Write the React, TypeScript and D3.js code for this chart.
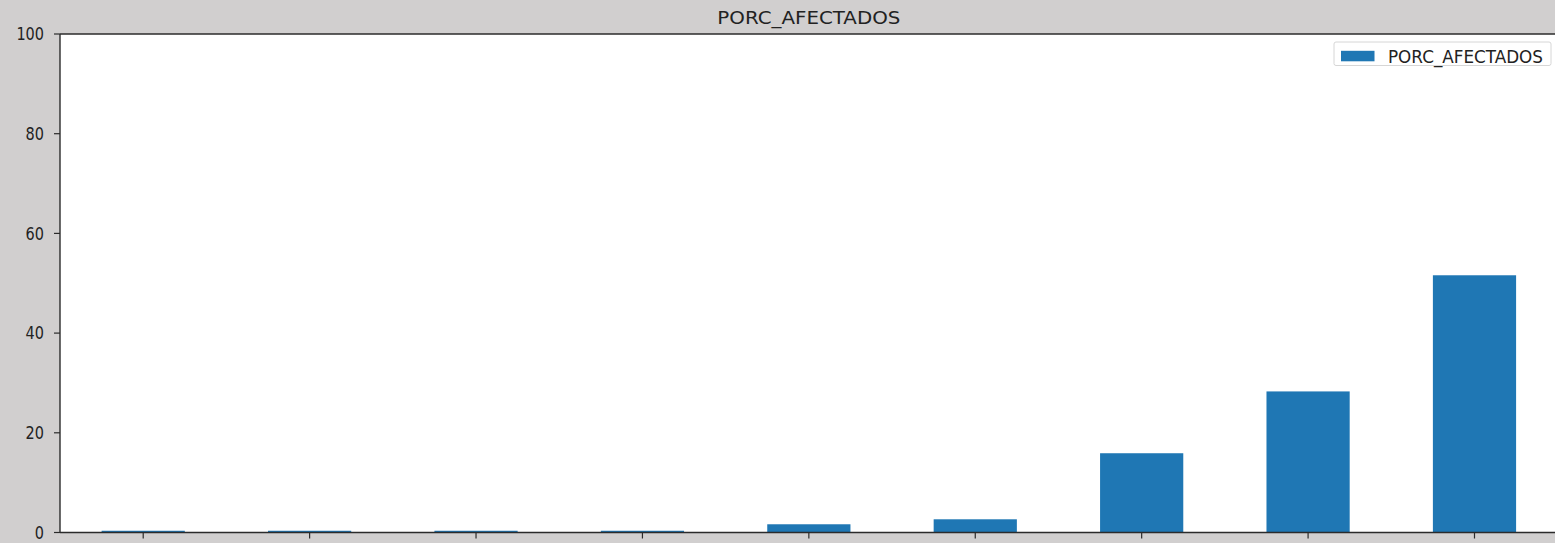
import React from "react";
import * as d3 from "d3";

const categories: string[] = ["0", "1", "2", "3", "4", "5", "6", "7", "8"];
const values: number[] = [0.35, 0.35, 0.35, 0.35, 1.65, 2.65, 15.9, 28.3, 51.6];
const yTicks: number[] = [0, 20, 40, 60, 80, 100];
const seriesName = "PORC_AFECTADOS";
const title = "PORC_AFECTADOS";

const W = 1555;
const H = 543;
const plotLeft = 60;
const plotRight = 1557.7;
const plotTop = 34;
const plotBottom = 532.5;
const font = "DejaVu Sans, sans-serif";

export default function App() {
  const x = d3
    .scaleBand<string>()
    .domain(categories)
    .range([plotLeft, plotRight])
    .paddingInner(0.5)
    .paddingOuter(0.25);
  const y = d3.scaleLinear().domain([0, 100]).range([plotBottom, plotTop]);
  const color = "#1f77b4";
  const axisColor = "#2b2b2b";

  return (
    <svg
      width={W}
      height={H}
      style={{ position: "fixed", left: 0, top: 0, background: "#d1cfcf" }}
    >
      <rect x={0} y={0} width={W} height={H} fill="#d1cfcf" />
      <rect
        x={plotLeft}
        y={plotTop}
        width={plotRight - plotLeft}
        height={plotBottom - plotTop}
        fill="#ffffff"
      />
      {categories.map((c, i) => (
        <rect
          key={c}
          x={x(c)}
          y={y(values[i])}
          width={x.bandwidth()}
          height={y(0) - y(values[i])}
          fill={color}
        />
      ))}
      {/* spines */}
      <line x1={plotLeft} x2={plotRight} y1={plotTop} y2={plotTop} stroke={axisColor} strokeWidth={1.4} />
      <line x1={plotLeft} x2={plotRight} y1={plotBottom} y2={plotBottom} stroke={axisColor} strokeWidth={1.4} />
      <line x1={plotLeft} x2={plotLeft} y1={plotTop} y2={plotBottom} stroke={axisColor} strokeWidth={1.4} />
      <line x1={plotRight} x2={plotRight} y1={plotTop} y2={plotBottom} stroke={axisColor} strokeWidth={1.4} />
      {/* y ticks */}
      {yTicks.map((t) => (
        <g key={t}>
          <line x1={plotLeft - 6} x2={plotLeft} y1={y(t)} y2={y(t)} stroke={axisColor} strokeWidth={1.2} />
          <text
            x={44}
            y={y(t) + 6.3}
            textAnchor="end"
            fontFamily={font}
            fontSize={17}
            fill="#222"
            textLength={String(t).length * 9.2}
            lengthAdjust="spacingAndGlyphs"
          >
            {t}
          </text>
        </g>
      ))}
      {/* x ticks */}
      {categories.map((c) => (
        <line
          key={c}
          x1={(x(c) as number) + x.bandwidth() / 2}
          x2={(x(c) as number) + x.bandwidth() / 2}
          y1={plotBottom}
          y2={plotBottom + 6}
          stroke={axisColor}
          strokeWidth={1.2}
        />
      ))}
      {/* title */}
      <text
        x={(plotLeft + plotRight) / 2}
        y={23.5}
        textAnchor="middle"
        fontFamily={font}
        fontSize={18}
        fill="#222"
        textLength={183}
        lengthAdjust="spacingAndGlyphs"
      >
        {title}
      </text>
      {/* legend */}
      <rect x={1334} y={42} width={217} height={23.5} rx={2} fill="#ffffff" stroke="#d6d6d6" strokeWidth={1} />
      <rect x={1341} y={50.8} width={33.5} height={10.5} fill={color} />
      <text
        x={1388}
        y={63.2}
        fontFamily={font}
        fontSize={17}
        fill="#222"
        textLength={155}
        lengthAdjust="spacingAndGlyphs"
      >
        {seriesName}
      </text>
    </svg>
  );
}
